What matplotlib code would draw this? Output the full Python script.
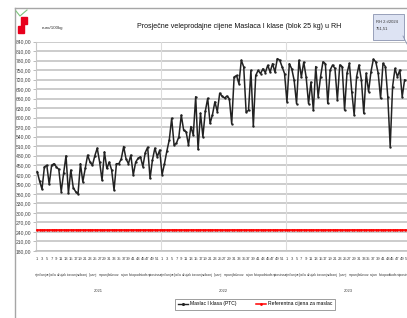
import matplotlib
import numpy as np

matplotlib.use("Agg")
import matplotlib.pyplot as plt
from matplotlib.lines import Line2D
from matplotlib.patches import Polygon, FancyBboxPatch

YEARS = ["2021", "2022", "2023"]
MONTHS = ["siječanj", "veljača", "ožujak", "travanj", "svibanj", "lipanj",
          "srpanj", "kolovoz", "rujan", "listopad", "studeni", "prosinac"]
WEEKS = 52

# weekly wholesale price, euro/100kg
PRICE_2021 = [430, 400, 375, 445, 450, 390, 450, 455, 445, 437, 367, 425, 480,
              362, 435, 380, 367, 360, 455, 398, 440, 482, 460, 450, 480, 504,
              460, 403, 492, 440, 460, 435, 372, 455, 455, 470, 509, 470, 455,
              482, 419, 460, 472, 477, 446, 490, 507, 409, 467, 504, 477, 498]
PRICE_2022 = [420, 455, 495, 530, 598, 514, 520, 540, 608, 560, 556, 514, 572,
              545, 666, 500, 614, 540, 620, 661, 582, 610, 650, 619, 677, 668,
              662, 668, 660, 581, 728, 733, 707, 781, 760, 618, 623, 749, 573,
              733, 749, 739, 754, 742, 765, 744, 770, 744, 786, 781, 760, 739]
PRICE_2023 = [650, 770, 754, 718, 644, 781, 728, 775, 728, 644, 712, 623, 761,
              666, 729, 776, 770, 645, 750, 766, 755, 656, 766, 761, 624, 740,
              771, 682, 608, 729, 766, 719, 614, 740, 682, 745, 784, 776, 740,
              661, 771, 761, 666, 509, 698, 755, 729, 750, 666, 719]
REFERENCE_PRICE = 246.0
LAST_LABEL = ("RH 2.t/2024", "751,51")

plt.rcParams["font.family"] = ["Liberation Sans", "DejaVu Sans"]

W, H = 407, 318
fig = plt.figure(figsize=(W / 100, H / 100), dpi=100)
fig.patch.set_facecolor("white")

# screenshot frame
fig.add_artist(Line2D([15 / W, 1], [1 - 8 / H] * 2, color="#a6a6a6", lw=1.0))
fig.add_artist(Line2D([15 / W] * 2, [0, 1 - 8 / H], color="#a6a6a6", lw=1.0))
# little logo in the corner
fig.add_artist(Polygon([(18 / W, 1 - 33 / H), (24 / W, 1 - 33 / H), (24 / W, 1 - 24 / H),
                        (27 / W, 1 - 24 / H), (27 / W, 1 - 17 / H), (21 / W, 1 - 17 / H),
                        (21 / W, 1 - 26 / H), (18 / W, 1 - 26 / H)],
                       closed=True, color="#e8001c", transform=fig.transFigure))
fig.add_artist(Line2D([16 / W, 20 / W, 27 / W], [1 - 11 / H, 1 - 16 / H, 1 - 10 / H],
                      color="#7cc47c", lw=0.8))

ax = fig.add_axes([36 / W, 1 - 251 / H, 371 / W, 209.5 / H])

price = np.array(PRICE_2021 + PRICE_2022 + PRICE_2023, dtype=float)
x = np.arange(price.size)
n_all = WEEKS * len(YEARS)
ref = np.full(n_all, REFERENCE_PRICE)

ax.plot(np.arange(n_all), ref, color="#ff0000", lw=1.2, marker="o", ms=0.8,
        zorder=3)
ax.plot(x, price, color="#222222", lw=1.1, marker="o", ms=0.7, zorder=4)

ax.set_ylim(180, 840)
ax.set_xlim(-0.5, 152.8)
yt = np.arange(180, 841, 30)
ax.set_yticks(yt)
ax.set_yticklabels([f"{v:.2f}".replace(".", ",") for v in yt], fontsize=3.6,
                   color="#404040")
ax.tick_params(axis="y", length=2, width=0.5, color="#a0a0a0", pad=1.5)
ax.yaxis.grid(True, color="#bfbfbf", lw=1.1)
ax.set_axisbelow(True)
for b in (WEEKS - 0.5, 2 * WEEKS - 0.5):
    ax.axvline(b, color="#dcdcdc", lw=0.8, zorder=1)

for s in ("top", "right"):
    ax.spines[s].set_visible(False)
ax.spines["left"].set_color("#c8c8c8")
ax.spines["bottom"].set_color("#bfbfbf")
ax.spines["left"].set_linewidth(0.8)
ax.spines["bottom"].set_linewidth(1.1)

# week numbers
ticks = [y * WEEKS + w - 1 for y in range(len(YEARS)) for w in range(1, WEEKS + 1, 2)]
ax.set_xticks(ticks)
ax.set_xticklabels([str(w) for _ in YEARS for w in range(1, WEEKS + 1, 2)],
                   fontsize=3.0, color="#404040")
ax.tick_params(axis="x", length=0, pad=4)

# month and year rows
trans = ax.get_xaxis_transform()
for yi, year in enumerate(YEARS):
    for mi, month in enumerate(MONTHS):
        xm = yi * WEEKS + (mi + 0.5) * WEEKS / 12 - 0.5
        ax.text(xm, -0.115, month, transform=trans, ha="center", va="center",
                fontsize=2.5, color="#404040", clip_on=False)
    ax.text(yi * WEEKS + WEEKS / 2 - 0.5, -0.19, year, transform=trans,
            ha="center", va="center", fontsize=3.0, color="#404040")

fig.text(239 / W, 1 - 27 / H, "Prosječne veleprodajne cijene Maslaca I klase (blok 25 kg) u RH",
         ha="center", va="center", fontsize=5.1, color="#111111", weight="medium")
fig.text(42 / W, 1 - 28 / H, "euro/100kg", ha="left", va="center", fontsize=3.2,
         color="#333333")

# data callout for the latest week
box = FancyBboxPatch((373 / W, 1 - 40 / H), 31 / W, 26 / H, boxstyle="square,pad=0",
                     transform=fig.transFigure, facecolor="#dde3f3",
                     edgecolor="#8a93b0", lw=0.6)
fig.add_artist(box)
fig.add_artist(Line2D([403 / W, 407 / W], [1 - 36 / H, 1 - 44 / H], color="#8a93b0", lw=0.6))
fig.text(376 / W, 1 - 22 / H, LAST_LABEL[0], fontsize=3.0, ha="left", va="center",
         color="#333333")
fig.text(376 / W, 1 - 29 / H, LAST_LABEL[1], fontsize=3.0, ha="left", va="center",
         color="#333333")

handles = [Line2D([], [], color="#222222", lw=1.0, marker="o", ms=1.2),
           Line2D([], [], color="#ff0000", lw=1.1, marker="o", ms=1.0)]
leg = fig.legend(handles, ["Maslac I klasa (PTC)", "Referentna cijena za maslac"],
                 loc="center", bbox_to_anchor=(255 / W, 1 - 304 / H), ncol=2,
                 fontsize=3.6, frameon=True, fancybox=False, handlelength=2.0,
                 columnspacing=4.0, borderpad=0.6, handletextpad=0.4)
leg.get_frame().set_edgecolor("#555555")
leg.get_frame().set_linewidth(0.5)

fig.savefig("out.png", dpi=100, facecolor="white")
